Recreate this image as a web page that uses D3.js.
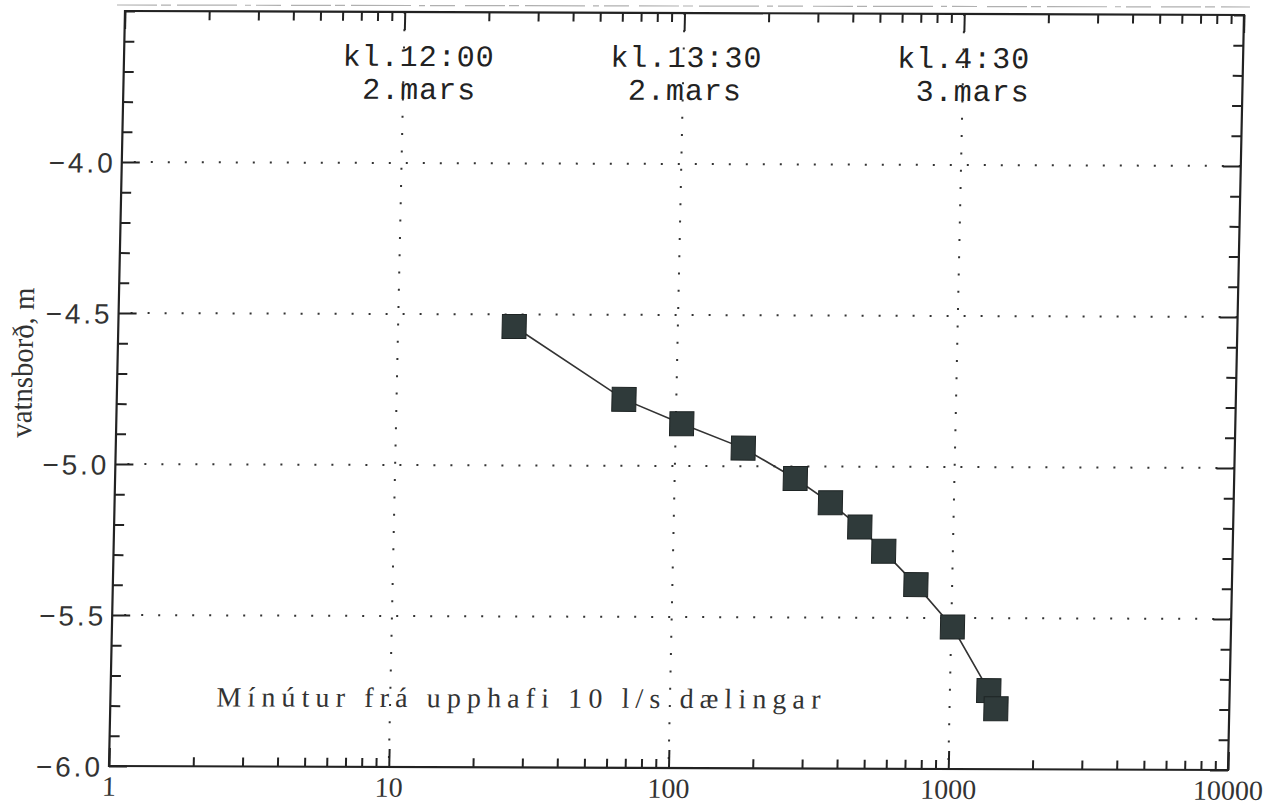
<!DOCTYPE html>
<html>
<head>
<meta charset="utf-8">
<script src="https://cdn.jsdelivr.net/npm/d3@7"></script>
<style>
  body { margin: 0; background: #fff; }
  svg { display: block; }
</style>
</head>
<body>
<script>
// Minutes since pumping started (10 l/s) and water level in m
const minutes = [26, 65, 105, 175, 270, 362, 463, 566, 742, 1010, 1377, 1465];
const levels = [-4.54, -4.78, -4.86, -4.94, -5.04, -5.12, -5.20, -5.28, -5.39, -5.53, -5.74, -5.80];

const xTicks = [1, 10, 100, 1000, 10000];
const yTicks = [-6.0, -5.5, -5.0, -4.5, -4.0];
const gridX = [10, 100, 1000];
const gridY = [-5.5, -5.0, -4.5, -4.0];

const noteAt = [10, 100, 1000];
const noteTime = ["kl.12:00", "kl.13:30", "kl.4:30"];
const noteDay = ["2.mars", "2.mars", "3.mars"];

const yTitle = "vatnsborð, m";
const xNote = "Mínútur frá upphafi 10 l/s dælingar";

const width = 1282;
const height = 807;
const W = 1119;
const H = 755;

const svg = d3.select("body")
  .append("svg")
  .attr("width", width)
  .attr("height", height);

svg.append("rect").attr("width", width).attr("height", height).attr("fill", "#fff");

// faint dashed scan line above the frame
svg.append("line")
  .attr("x1", 117).attr("y1", 5)
  .attr("x2", 1250).attr("y2", 7)
  .attr("stroke", "#b0b0b0")
  .attr("stroke-width", 1.2)
  .attr("stroke-dasharray", "40 4 10 6 60 8 6 5 25 10");

// the scanned page is slightly sheared
const g = svg.append("g")
  .attr("transform", "matrix(1,0.00357,-0.0212,1,125,11)");

const x = d3.scaleLog().domain([1, 10000]).range([0, W]);
const y = d3.scaleLinear().domain([-6, -3.5]).range([H, 0]);

// dotted grid
gridX.forEach(v => {
  g.append("line")
    .attr("x1", x(v)).attr("y1", 0)
    .attr("x2", x(v)).attr("y2", H)
    .attr("stroke", "#333")
    .attr("stroke-width", 2)
    .attr("stroke-dasharray", "2 15.3");
});
gridY.forEach(v => {
  g.append("line")
    .attr("x1", 0).attr("y1", y(v))
    .attr("x2", W).attr("y2", y(v))
    .attr("stroke", "#333")
    .attr("stroke-width", 2)
    .attr("stroke-dasharray", "2 15")
    .attr("stroke-dashoffset", -12);
});

// series
const data = minutes.map((m, i) => [m, levels[i]]);
const line = d3.line()
  .x(d => x(d[0]))
  .y(d => y(d[1]));

g.append("path")
  .datum(data)
  .attr("d", line)
  .attr("fill", "none")
  .attr("stroke", "#333")
  .attr("stroke-width", 1.6);

g.selectAll(".pt")
  .data(data)
  .enter()
  .append("rect")
  .attr("class", "pt")
  .attr("x", d => x(d[0]) - 12)
  .attr("y", d => y(d[1]) - 12)
  .attr("width", 24)
  .attr("height", 24)
  .attr("fill", "#2f3a3a")
  .attr("stroke", "#1e2424")
  .attr("stroke-width", 1);

// axes
const xMinor = x.ticks().filter(t => xTicks.indexOf(t) < 0);
const yMinor = y.ticks(25).filter(t => yTicks.every(v => Math.abs(v - t) > 1e-6));

function styleAxis(sel) {
  sel.select(".domain").remove();
  sel.selectAll("line").attr("stroke", "#222").attr("stroke-width", 2);
}

g.append("g").attr("transform", `translate(0,${H})`)
  .call(d3.axisBottom(x).tickValues(xTicks).tickSize(-18).tickPadding(10)
    .tickFormat(d3.format("d")))
  .call(styleAxis)
  .selectAll("text")
  .attr("font-family", "Liberation Serif, serif")
  .attr("font-size", 28)
  .attr("fill", "#333");

g.append("g").attr("transform", `translate(0,${H})`)
  .call(d3.axisBottom(x).tickValues(xMinor).tickSize(-9).tickFormat(""))
  .call(styleAxis);

g.append("g")
  .call(d3.axisTop(x).tickValues(xTicks).tickSize(-18).tickFormat(""))
  .call(styleAxis);

g.append("g")
  .call(d3.axisTop(x).tickValues(xMinor).tickSize(-9).tickFormat(""))
  .call(styleAxis);

g.append("g")
  .call(d3.axisLeft(y).tickValues(yTicks).tickSize(-18).tickPadding(9)
    .tickFormat(d3.format(".1f")))
  .call(styleAxis)
  .selectAll("text")
  .attr("dy", "0.36em")
  .attr("font-family", "Liberation Sans, sans-serif")
  .attr("font-size", 28)
  .attr("fill", "#333")
  .attr("textLength", 64)
  .attr("lengthAdjust", "spacing");

g.append("g")
  .call(d3.axisLeft(y).tickValues(yMinor).tickSize(-10).tickFormat(""))
  .call(styleAxis);

g.append("g").attr("transform", `translate(${W},0)`)
  .call(d3.axisRight(y).tickValues(yTicks).tickSize(-18).tickFormat(""))
  .call(styleAxis);

g.append("g").attr("transform", `translate(${W},0)`)
  .call(d3.axisRight(y).tickValues(yMinor).tickSize(-10).tickFormat(""))
  .call(styleAxis);

// frame
g.append("rect")
  .attr("width", W)
  .attr("height", H)
  .attr("fill", "none")
  .attr("stroke", "#222")
  .attr("stroke-width", 2.2);

// y title
g.append("text")
  .attr("transform", "translate(-85,352) rotate(-90)")
  .attr("text-anchor", "middle")
  .attr("font-family", "Liberation Serif, serif")
  .attr("font-size", 30)
  .attr("fill", "#333")
  .attr("textLength", 150)
  .attr("lengthAdjust", "spacingAndGlyphs")
  .text(yTitle);

// time notes at the grid lines
const timeDx = [-61, -73, -66];
const dayDx = [-41, -55, -47];
noteAt.forEach((v, i) => {
  g.append("text")
    .attr("x", x(v) + timeDx[i])
    .attr("y", 54)
    .attr("font-family", "Liberation Mono, monospace")
    .attr("font-size", 30)
    .attr("letter-spacing", 1)
    .attr("fill", "#222")
    .text(noteTime[i]);
  g.append("text")
    .attr("x", x(v) + dayDx[i])
    .attr("y", 87)
    .attr("font-family", "Liberation Mono, monospace")
    .attr("font-size", 30)
    .attr("letter-spacing", 1)
    .attr("fill", "#222")
    .text(noteDay[i]);
});

g.append("text")
  .attr("x", 106)
  .attr("y", 695)
  .attr("font-family", "Liberation Serif, serif")
  .attr("font-size", 28)
  .attr("fill", "#333")
  .attr("textLength", 604)
  .attr("lengthAdjust", "spacing")
  .text(xNote);
</script>
</body>
</html>
